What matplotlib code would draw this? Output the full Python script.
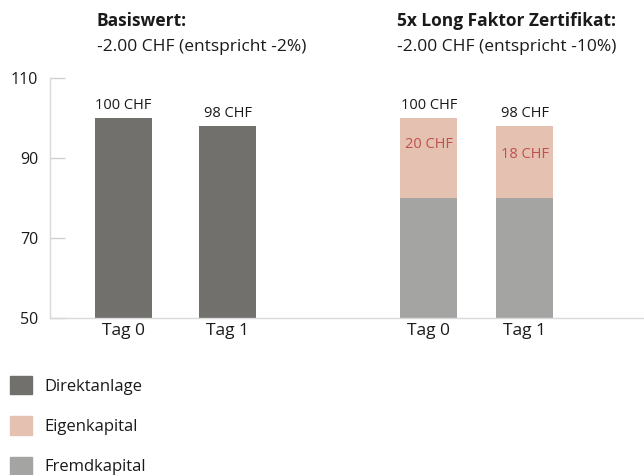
import matplotlib.pyplot as plt
from matplotlib.patches import Patch

plt.rcParams['font.family'] = ['Open Sans', 'DejaVu Sans']

# data
days = ["Tag 0", "Tag 1"]
basis = [100, 98]
fremd = [80, 80]
eigen = [20, 18]
titles = ["Basiswert:", "5x Long Faktor Zertifikat:"]
subtitles = ["-2.00 CHF (entspricht -2%)", "-2.00 CHF (entspricht -10%)"]

c_dir = "#72706d"
c_eig = "#e5c1b1"
c_fre = "#a4a4a3"
c_red = "#c0504d"
c_txt = "#1a1a1a"

fig = plt.figure(figsize=(6.44, 4.75), dpi=100)
ax = fig.add_axes([50/644, 1-318/475, 1-50/644, 240/475])

xl = [0, 1.04]
xr = [3.05, 4.01]
w = 0.57

ax.bar(xl, [b-50 for b in basis], bottom=50, width=w, color=c_dir)
ax.bar(xr, [f-50 for f in fremd], bottom=50, width=w, color=c_fre)
ax.bar(xr, eigen, bottom=fremd, width=w, color=c_eig)

for x, v in zip(xl, basis):
    ax.text(x, v+3.2, "%d CHF" % v, ha='center', va='center', fontsize=10.5, color=c_txt)
for x, f, e, off in zip(xr, fremd, eigen, [6.5, 7.2]):
    ax.text(x, f+e+3.2, "%d CHF" % (f+e), ha='center', va='center', fontsize=10.5, color=c_txt)
    ax.text(x, f+e-off, "%d CHF" % e, ha='center', va='center', fontsize=10.5, color=c_red)

ax.set_xlim(-0.735, 5.2)
ax.set_ylim(50, 110)
ax.set_yticks([50, 70, 90, 110])
ax.set_xticks(xl+xr)
ax.set_xticklabels(days+days)
ax.tick_params(axis='y', direction='in', length=11, width=1, color="#d0d0d0", pad=8.5,
               labelsize=11.5, labelcolor=c_txt)
ax.tick_params(axis='x', length=0, pad=3.5, labelsize=12.5, labelcolor=c_txt)
for s in ['top', 'right']:
    ax.spines[s].set_visible(False)
for s in ['left', 'bottom']:
    ax.spines[s].set_color("#d9d9d9")
    ax.spines[s].set_linewidth(1)

# titles
for tx, t, st in zip([97/644, 397/644], titles, subtitles):
    fig.text(tx, 1-21/475, t, fontsize=12.5, fontweight='bold', color=c_txt, va='center')
    fig.text(tx, 1-47/475, st, fontsize=12.5, color=c_txt, va='center')

handles = [Patch(color=c_dir, label="Direktanlage"),
           Patch(color=c_eig, label="Eigenkapital"),
           Patch(color=c_fre, label="Fremdkapital")]
fig.legend(handles=handles, loc='upper left', bbox_to_anchor=(-5/644, 1-361/475),
           frameon=False, fontsize=12, handlelength=1.3, handleheight=1.3,
           labelspacing=1.3, handletextpad=0.75, labelcolor=c_txt)

plt.savefig("out.png", dpi=100)
